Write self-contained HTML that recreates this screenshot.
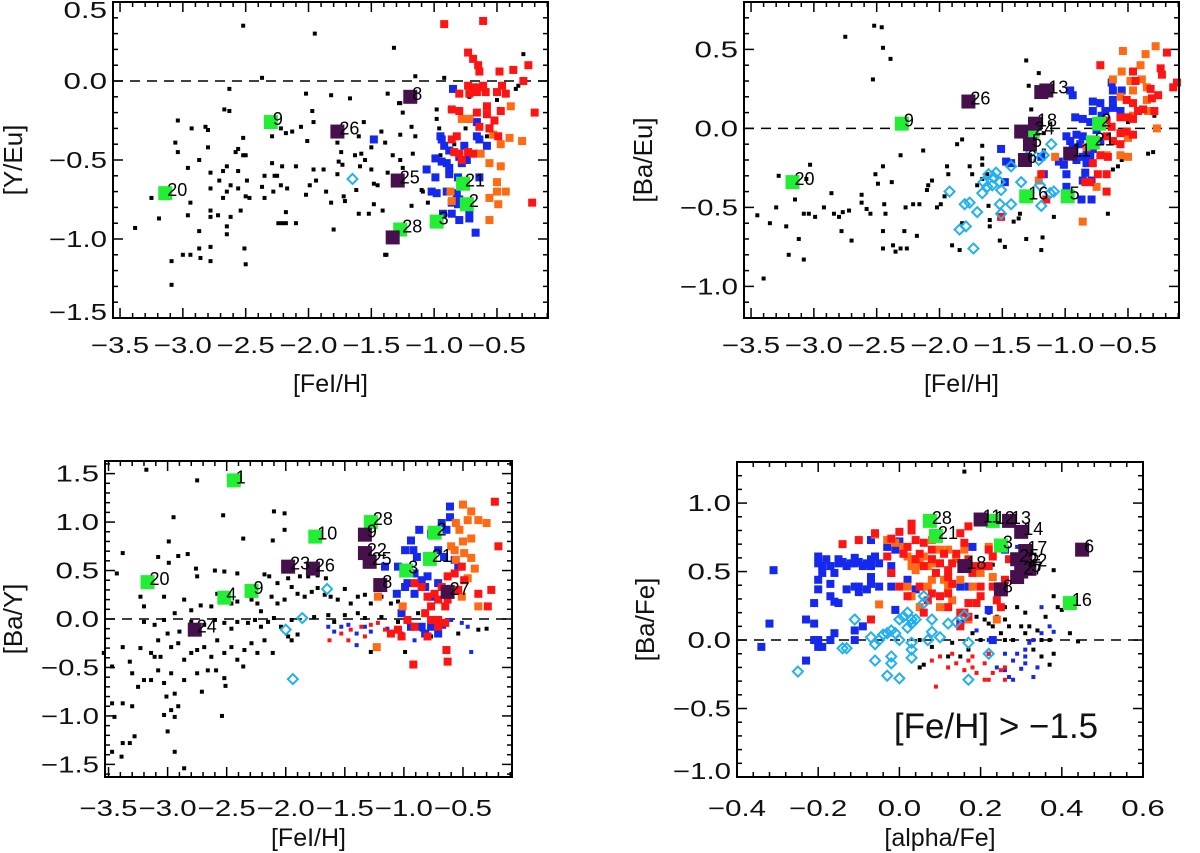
<!DOCTYPE html>
<html><head><meta charset="utf-8"><style>
html,body{margin:0;padding:0;background:#fff;}
svg{display:block;font-family:"Liberation Sans",sans-serif;}
</style></head><body>
<svg id="fig" width="1200" height="853" viewBox="0 0 1200 853" xmlns="http://www.w3.org/2000/svg"></svg>
<script>
// ---------- Panel 1: [Y/Eu] vs [FeI/H] ----------
const p1Black = [[-3.38,-0.93],[-3.25,-0.74],[-3.19,-0.87],[-3.09,-1.14],[-3.09,-1.29],[-3.06,-0.39],[-3.04,-0.25],[-3.04,-0.45],[-3.0,-1.1],[-2.96,-0.85],[-2.96,-0.55],[-2.94,-0.77],[-2.94,-1.1],[-2.93,-0.30],[-2.87,-0.5],[-2.87,-0.95],[-2.87,-1.06],[-2.86,-1.12],[-2.82,-0.29],[-2.80,-0.42],[-2.80,-0.31],[-2.78,-0.58],[-2.78,-0.68],[-2.78,-0.82],[-2.78,-0.86],[-2.78,-1.05],[-2.78,-1.14],[-2.72,-0.85],[-2.71,-0.63],[-2.68,-0.74],[-2.68,-0.57],[-2.67,-0.18],[-2.65,-0.54],[-2.65,-0.70],[-2.65,-0.92],[-2.65,-0.97],[-2.63,-0.19],[-2.63,-0.05],[-2.62,-0.66],[-2.62,-0.86],[-2.58,-0.45],[-2.56,-0.43],[-2.56,-0.57],[-2.56,-0.68],[-2.52,0.35],[-2.54,-0.82],[-2.52,-0.36],[-2.52,-0.47],[-2.51,-1.06],[-2.5,-1.16],[-2.5,-0.47],[-2.5,-0.73],[-2.49,-0.63],[-2.47,-0.74],[-2.37,0.02],[-2.37,-0.67],[-2.35,-0.74],[-2.35,-0.6],[-2.29,-0.35],[-2.29,-0.52],[-2.28,-0.7],[-2.27,-0.6],[-2.24,-0.9],[-2.22,-0.3],[-2.22,-0.66],[-2.21,-0.9],[-2.18,-0.33],[-2.18,-0.83],
[-2.02,-0.08],[-1.97,-0.19],[-1.96,-0.26],[-2.06,-0.29],[-2.13,-0.32],[-2.01,-0.38],[-1.82,-0.09],[-1.67,-0.11],[-1.56,-0.26],[-1.60,-0.35],[-1.77,-0.39],[-1.74,-0.45],[-1.76,-0.51],[-1.73,-0.53],[-1.77,-0.59],[-1.63,-0.47],[-1.58,-0.46],[-1.55,-0.50],[-1.50,-0.56],[-1.59,-0.54],[-1.37,-0.08],[-1.28,-0.14],[-1.42,-0.32],[-1.39,-0.39],[-1.37,-0.58],[-1.48,-0.65],[-1.45,-0.66],[-1.48,-0.78],[-1.41,-0.82],[-1.62,-0.69],[-1.72,-0.73],[-1.71,-0.76],[-1.82,-0.77],[-1.86,-0.70],[-1.94,-0.63],[-1.88,-0.56],[-1.96,-0.56],[-1.99,-0.66],[-2.02,-0.72],[-2.10,-0.54],[-2.21,-0.54],[-2.25,-0.60],[-2.17,-0.68],[-2.18,-0.90],[-2.10,-0.90],[-1.60,-0.84],[-1.52,-0.84],[-1.80,-0.94],[-1.39,-1.1],[-1.50,-0.42],[-1.95,0.30],
[-1.32,0.21],[-1.15,0.03],[-0.92,0.02],[-1.27,-0.14],[-1.25,-0.2],[-1.18,-0.29],[-1.15,-0.35],[-1.27,-0.34],[-1.33,-0.47],[-1.17,-0.46],[-1.27,-0.5],[-1.25,-0.55],[-1.10,-0.69],[-1.09,-0.70],[-1.05,-0.77],[-1.18,-0.79],[-1.38,-1.1],[-0.98,-0.18],[-0.98,-0.24],[-0.96,-0.3],[-0.95,-0.47],[-0.84,-0.40],[-0.72,-0.1],[-0.50,-0.12],[-0.35,-0.05],[-0.33,-0.03],[-0.29,0.17],[-0.58,-0.35],[-0.75,-0.30]];
const p1Blue = [[-0.85,-0.05],[-0.72,-0.24],[-0.66,-0.26],[-0.95,-0.35],[-0.94,-0.37],[-0.92,-0.41],[-0.88,-0.44],[-0.76,-0.41],[-0.66,-0.35],[-0.64,-0.37],[-0.58,-0.41],[-0.56,-0.30],[-0.99,-0.49],[-0.94,-0.51],[-0.90,-0.52],[-0.88,-0.55],[-0.80,-0.48],[-0.78,-0.52],[-0.74,-0.50],[-1.06,-0.56],[-0.99,-0.61],[-0.88,-0.59],[-0.81,-0.61],[-0.64,-0.61],[-1.02,-0.70],[-0.98,-0.71],[-0.90,-0.70],[-0.82,-0.71],[-0.86,-0.77],[-0.81,-0.78],[-0.93,-0.84],[-0.86,-0.84],[-0.80,-0.88],[-0.72,-0.87],[-0.67,-0.96],[-0.80,-0.75],[-0.72,-0.82],[-1.48,-0.37]];
const p1Red = [[-0.92,0.36],[-0.61,0.38],[-0.73,0.18],[-0.69,0.14],[-0.65,0.10],[-0.64,0.06],[-0.48,0.06],[-0.37,0.07],[-0.25,0.10],[-0.29,0.0],[-0.73,-0.03],[-0.69,-0.04],[-0.65,-0.04],[-0.61,-0.03],[-0.72,-0.08],[-0.66,-0.07],[-0.59,-0.07],[-0.80,-0.08],[-0.46,-0.03],[-0.50,-0.07],[-0.43,-0.08],[-0.86,-0.18],[-0.80,-0.19],[-0.58,-0.16],[-0.58,-0.21],[-0.66,-0.20],[-0.47,-0.19],[-0.20,-0.20],[-0.64,-0.29],[-0.56,-0.30],[-0.82,-0.35],[-0.86,-0.37],[-0.80,-0.46],[-0.73,-0.45],[-0.69,-0.46],[-0.49,-0.35],[-0.52,-0.25],[-0.22,-0.77],[-0.78,-0.50],[-0.84,-0.45]];
const p1Orange = [[-0.39,-0.16],[-0.78,-0.24],[-0.72,-0.24],[-0.53,-0.34],[-0.47,-0.40],[-0.40,-0.36],[-0.30,-0.38],[-0.63,-0.46],[-0.56,-0.52],[-0.47,-0.54],[-0.50,-0.64],[-0.50,-0.70],[-0.43,-0.70],[-0.56,-0.74],[-0.49,-0.78],[-0.56,-0.88],[-0.87,-0.70],[-0.86,-0.76]];
const p1Cyan = [[-1.65,-0.62]];
const p1Green = [[-3.14,-0.71,"20"],[-2.30,-0.26,"9"],[-0.77,-0.65,"21"],[-0.74,-0.78,"2"],[-0.98,-0.89,"3"],[-1.27,-0.94,"28"]];
const p1Purple = [[-1.19,-0.10,"8"],[-1.29,-0.63,"25"],[-1.33,-0.99,""],[-1.77,-0.32,"26"]];

// ---------- Panel 2: [Ba/Eu] vs [FeI/H] ----------
const p2Black = [[-2.52,0.65],[-2.46,0.64],[-2.75,0.58],[-2.45,0.51],[-2.39,0.44],[-2.53,0.31],[-1.31,0.43],[-1.21,0.35],[-1.27,0.12],[-2.31,-0.17],[-2.13,-0.14],[-2.45,-0.24],[-2.51,-0.29],[-2.49,-0.35],[-2.38,-0.34],[-3.06,-0.32],[-2.99,-0.56],[-3.04,-0.54],[-2.92,-0.50],[-2.86,-0.41],[-2.84,-0.54],[-2.80,-0.56],[-2.77,-0.53],[-2.72,-0.52],[-2.78,-0.65],[-2.70,-0.71],[-2.62,-0.42],[-2.62,-0.47],[-2.58,-0.51],[-2.55,-0.54],[-2.44,-0.48],[-2.43,-0.54],[-2.45,-0.65],[-2.45,-0.76],[-2.37,-0.74],[-2.35,-0.78],[-2.31,-0.76],[-2.26,-0.76],[-2.28,-0.65],[-2.27,-0.50],[-2.21,-0.48],[-2.18,-0.68],[-2.16,-0.48],[-2.09,-0.36],[-2.10,-0.39],[-2.06,-0.33],[-2.02,-0.50],[-1.99,-0.48],[-1.94,-0.24],[-1.93,-0.29],[-1.96,-0.43],[-1.90,-0.74],[-1.86,-0.10],[-1.82,-0.07],[-1.82,-0.60],[-1.84,-0.77],[-1.76,-0.24],[-1.74,-0.29],[-1.70,-0.36],[-1.66,-0.11],[-1.66,-0.19],[-1.66,-0.23],[-1.66,-0.32],[-1.62,-0.29],[-1.61,-0.49],[-1.60,-0.58],[-1.60,-0.62],[-1.52,-0.71],[-1.48,-0.75],[-1.41,-0.59],[-1.37,-0.57],[-1.36,-0.54],[-1.31,-0.70],[-1.18,-0.69],[-1.19,-0.77],[-1.09,-0.56],[-1.29,0.27],[-1.25,0.01],[-1.17,-0.03],[-1.17,-0.14],[-3.08,-0.54],[-3.03,-0.23],[-3.08,-0.83],[-0.34,-0.16],[-0.30,-0.15],[-0.29,0.08],[-0.66,-0.54],[-0.58,-0.24],[-0.55,-0.20],[-0.62,-0.26],[-0.50,0.04],[-3.45,-0.55],[-3.40,-0.95],[-3.35,-0.60],[-3.30,-0.50],[-3.28,-0.30],[-3.22,-0.62],[-3.20,-0.80],[-3.15,-0.45],[-3.12,-0.70]];
const p2Blue = [[-1.51,-0.13],[-1.47,-0.21],[-1.48,-0.34],[-1.43,-0.22],[-0.96,0.24],[-0.94,0.21],[-0.78,0.17],[-0.72,0.16],[-0.63,0.29],[-0.55,0.24],[-0.62,0.24],[-0.68,0.11],[-0.62,0.18],[-0.78,0.11],[-0.71,0.08],[-0.62,0.13],[-0.56,0.11],[-0.86,0.06],[-0.92,0.07],[-0.80,0.04],[-0.75,-0.01],[-0.99,-0.05],[-0.96,-0.08],[-0.91,-0.04],[-0.86,-0.05],[-0.80,-0.07],[-0.94,-0.12],[-0.88,-0.10],[-0.83,-0.13],[-0.78,-0.13],[-0.72,-0.08],[-1.05,-0.21],[-0.99,-0.29],[-1.01,-0.23],[-0.91,-0.20],[-0.86,-0.18],[-0.83,-0.22],[-0.80,-0.18],[-0.84,-0.28],[-0.86,-0.33],[-0.79,-0.33],[-0.99,-0.37],[-0.87,-0.45],[-0.79,-0.45],[-1.17,-0.29],[-1.19,-0.18]];
const p2Red = [[-0.72,0.40],[-0.46,0.36],[-0.44,0.30],[-0.24,0.38],[-0.23,0.34],[-0.19,0.48],[-0.11,0.29],[-0.14,0.26],[-0.32,0.25],[-0.31,0.19],[-0.26,0.21],[-0.51,0.18],[-0.46,0.16],[-0.42,0.11],[-0.38,0.12],[-0.29,0.11],[-0.50,0.07],[-0.46,0.06],[-0.56,0.07],[-0.67,0.05],[-0.63,0.01],[-0.56,-0.03],[-0.51,-0.02],[-0.46,-0.04],[-0.67,-0.05],[-0.62,-0.08],[-0.56,-0.10],[-0.72,-0.17],[-0.66,-0.18],[-0.78,-0.22],[-0.74,-0.29],[-0.67,-0.29],[-0.84,-0.34],[-0.80,-0.34],[-0.67,-0.40],[-1.15,-0.45],[-1.51,-0.56],[-1.19,-0.29]];
const p2Orange = [[-0.54,0.49],[-0.36,0.47],[-0.28,0.52],[-0.40,0.40],[-0.55,0.36],[-0.62,0.31],[-0.48,0.30],[-0.39,0.31],[-0.35,0.26],[-0.46,0.24],[-0.56,0.20],[-0.35,0.18],[-0.34,0.11],[-0.46,0.08],[-0.27,0.00],[-0.50,-0.06],[-0.56,-0.17],[-0.50,-0.18],[-0.67,-0.17],[-0.83,-0.12],[-1.08,-0.18],[-0.86,-0.59],[-0.75,-0.37],[-1.21,-0.33]];
const p2Cyan = [[-1.92,-0.40],[-1.84,-0.64],[-1.79,-0.62],[-1.73,-0.76],[-1.80,-0.48],[-1.76,-0.47],[-1.70,-0.53],[-1.66,-0.41],[-1.65,-0.34],[-1.61,-0.29],[-1.57,-0.31],[-1.55,-0.28],[-1.62,-0.37],[-1.58,-0.36],[-1.52,-0.34],[-1.51,-0.39],[-1.52,-0.48],[-1.51,-0.54],[-1.43,-0.48],[-1.43,-0.24],[-1.35,-0.34],[-1.27,-0.15],[-1.21,-0.20],[-1.17,-0.17],[-1.11,-0.10],[-1.20,-0.36],[-1.12,-0.41],[-1.09,-0.40],[-1.19,-0.49]];
const p2Green = [[-3.17,-0.34,"20"],[-2.30,0.03,"9"],[-0.73,0.03,"2"],[-0.78,-0.09,"21"],[-1.31,-0.43,"16"],[-0.98,-0.43,"5"],[-1.26,-0.02,"24"]];
const p2Purple = [[-1.77,0.17,"26"],[-1.19,0.23,""],[-1.15,0.24,"13"],[-1.24,0.03,"18"],[-1.35,-0.02,""],[-1.28,-0.10,"5"],[-1.32,-0.20,"6"],[-0.96,-0.16,"11"]];

// ---------- Panel 3: [Ba/Y] vs [FeI/H] ----------
const p3Black = [[-3.18,1.54],[-2.75,1.43],[-2.95,1.05],[-2.53,1.07],[-2.36,0.83],[-2.10,1.11],[-2.01,1.09],[-2.01,0.92],[-2.11,0.81],[-3.38,0.68],[-3.43,0.47],[-3.08,0.64],[-2.91,0.65],[-2.83,0.67],[-2.99,0.58],[-2.99,0.80],[-2.76,0.52],[-2.75,0.44],[-2.60,0.50],[-2.52,0.49],[-2.41,0.47],[-2.18,0.46],[-2.14,0.44],[-2.07,0.37],[-1.98,0.42],[-1.95,0.33],[-1.88,0.44],[-1.81,0.44],[-1.73,0.45],[-1.66,0.42],
[-3.23,0.23],[-3.20,0.13],[-3.03,0.23],[-2.86,0.20],[-2.80,0.09],[-2.72,0.14],[-2.63,0.13],[-2.58,0.26],[-2.46,0.16],[-2.41,0.18],[-2.29,0.20],[-2.24,0.16],[-2.21,0.08],[-2.12,0.23],[-2.07,0.16],[-2.01,0.20],[-1.90,0.26],[-1.84,0.23],[-1.78,0.28],[-1.73,0.32],[-1.67,0.25],[-1.62,0.23],[-1.56,0.20],[-1.50,0.31],[-1.45,0.16],[-1.39,0.23],[-1.33,0.25],[-1.28,0.16],[-1.19,0.23],[-1.11,0.16],[-1.05,0.18],
[-3.20,-0.03],[-3.11,-0.06],[-3.03,-0.01],[-2.94,0.06],[-2.90,-0.13],[-2.80,-0.03],[-2.75,-0.08],[-2.69,-0.06],[-2.60,-0.01],[-2.52,-0.04],[-2.46,-0.10],[-2.41,-0.03],[-2.32,-0.04],[-2.26,-0.01],[-2.21,-0.08],[-2.15,-0.03],[-2.10,0.01],[-2.04,-0.08],[-1.95,-0.01],[-1.76,0.02],[-1.64,0.04],[-1.59,-0.03],[-1.50,0.04],[-1.39,0.06],[-1.33,0.01],[-1.19,0.02],[-1.05,-0.03],[-0.94,-0.06],[-0.88,0.06],[-0.54,-0.15],[-0.37,-0.11],[-0.30,-0.10],
[-3.23,-0.30],[-3.14,-0.35],[-3.08,-0.22],[-3.06,-0.39],[-3.00,-0.15],[-2.97,-0.29],[-2.91,-0.25],[-2.86,-0.42],[-2.80,-0.35],[-2.75,-0.32],[-2.69,-0.29],[-2.63,-0.39],[-2.58,-0.22],[-2.52,-0.35],[-2.46,-0.29],[-2.41,-0.42],[-2.35,-0.32],[-2.29,-0.25],[-2.24,-0.35],[-2.18,-0.22],[-2.11,-0.35],[-1.98,-0.18],[-1.95,-0.22],[-1.90,-0.16],[-3.54,-0.35],[-3.38,-0.29],[-3.47,-0.49],[-3.32,-0.44],[-3.30,-0.56],[-3.25,-0.70],[-3.20,-0.63],[-3.11,-0.39],[-3.08,-0.53],[-3.03,-0.66],[-3.01,-0.80],[-2.97,-0.56],[-2.94,-0.77],[-2.91,-0.90],[-3.14,-0.63],[-2.97,-0.94],[-2.94,-1.01],[-2.86,-0.63],[-2.75,-0.56],[-2.71,-0.75],[-2.66,-0.53],[-2.59,-0.53],[-2.52,-0.61],[-2.51,-0.69],[-2.36,-0.49],[-2.54,-1.00],[-3.38,-0.87],[-3.30,-0.90],[-3.47,-0.87],[-3.45,-1.01],[-3.38,-1.28],[-3.28,-1.21],[-3.32,-1.28],[-3.47,-1.37],[-3.39,-1.42],[-3.00,-1.16],[-2.94,-1.37],[-2.86,-1.54],[-3.03,-0.99],[-1.28,-0.34],[-0.99,-0.34],[-0.77,-0.18]];
const p3Blue = [[-1.16,0.54],[-1.05,0.54],[-0.99,0.71],[-0.92,0.71],[-0.94,0.81],[-0.87,0.92],[-0.77,0.88],[-0.68,0.99],[-0.64,0.92],[-0.61,1.16],[-0.61,1.05],[-0.71,0.71],[-0.66,0.64],[-0.57,0.61],[-0.91,0.47],[-0.85,0.40],[-0.80,0.44],[-0.97,0.37],[-0.91,0.26],[-0.82,0.33],[-0.77,0.23],[-0.71,0.37],[-1.06,0.26],[-0.99,0.33],[-0.85,-0.08],[-0.82,-0.15],[-0.77,-0.08],[-0.71,-0.15],[-1.02,0.06],[-0.94,-0.08],[-0.89,0.64],[-0.54,0.54]];
const p3BlueDot = [[-1.64,-0.08],[-1.59,-0.13],[-1.53,-0.08],[-1.47,-0.06],[-1.40,-0.15],[-1.33,-0.08],[-1.28,-0.13],[-1.14,-0.10],[-1.02,-0.15],[-0.91,-0.22],[-0.85,-0.11],[-0.66,-0.08],[-0.60,-0.01],[-0.51,-0.04],[-0.46,-0.08],[-0.43,-0.34],[-1.40,-0.27]];
const p3Red = [[-0.92,-0.47],[-0.63,-0.44],[-0.64,-0.32],[-0.23,1.21],[-0.20,0.75],[-0.26,0.30],[-0.29,0.13],[-0.37,0.26],[-0.49,0.40],[-0.54,0.30],[-0.63,0.44],[-0.68,0.33],[-0.74,0.26],[-0.80,0.23],[-0.85,0.33],[-0.91,0.37],[-0.71,0.20],[-0.63,0.20],[-0.77,0.13],[-0.65,0.13],[-0.82,0.06],[-0.71,-0.01],[-0.65,-0.04],[-0.77,-0.01],[-0.97,-0.01],[-0.91,-0.08],[-1.05,-0.11],[-1.11,-0.15],[-1.02,-0.18],[-0.61,0.26],[-0.57,0.47],[-0.51,0.54],[-0.80,-0.18],[-0.71,-0.08]];
const p3RedDot = [[-1.63,-0.22],[-1.53,-0.15],[-1.45,-0.11],[-1.36,-0.08],[-1.28,-0.06],[-1.22,-0.04],[-1.16,-0.11],[-1.33,-0.18],[-1.47,-0.22]];
const p3Orange = [[-0.50,1.18],[-0.43,1.11],[-0.56,0.99],[-0.53,0.92],[-0.46,1.02],[-0.37,1.02],[-0.30,0.99],[-0.43,0.83],[-0.50,0.80],[-0.57,0.71],[-0.49,0.68],[-0.56,0.61],[-0.43,0.63],[-0.40,0.52],[-0.46,0.42],[-0.51,0.23],[-0.37,0.13],[-1.22,0.23],[-1.23,-0.29],[-1.01,0.13],[-0.60,0.75]];
const p3Cyan = [[-1.65,0.31],[-1.86,0.01],[-2.00,-0.11],[-1.94,-0.62]];
const p3Green = [[-2.44,1.43,"1"],[-1.28,1.00,"28"],[-1.75,0.85,"10"],[-0.74,0.89,"2"],[-0.78,0.62,"21"],[-0.98,0.50,"3"],[-3.17,0.38,"20"],[-2.29,0.29,"9"],[-2.52,0.22,"4"]];
const p3Purple = [[-1.98,0.54,"23"],[-1.77,0.52,"26"],[-1.33,0.87,"9"],[-1.33,0.68,"22"],[-1.29,0.59,"25"],[-1.20,0.35,"8"],[-0.63,0.28,"27"],[-2.77,-0.11,"24"]];

// ---------- Panel 4: [Ba/Fe] vs [alpha/Fe] ----------
const p4Black = [[0.16,1.23],[0.38,0.51],[0.38,0.32],[0.23,0.55],[0.19,0.17],[0.21,0.15],[0.22,0.20],[0.24,0.17],[0.26,0.15],[0.26,0.24],[0.29,0.24],[0.31,0.20],[0.32,0.10],[0.34,0.07],[0.36,0.17],[0.39,0.24],[0.40,0.22],[0.42,0.05],[0.44,-0.01],[0.37,0.0],[0.38,-0.10],[0.37,-0.18],[0.31,0.05],[0.30,0.10],[0.28,0.0],[0.27,0.10],[0.25,0.05],[0.23,0.10],[0.22,0.12],[0.20,0.0],[0.18,0.05],[0.13,-0.02],[0.15,-0.12],[0.17,-0.07],[0.12,-0.12],[0.06,-0.18],[0.05,-0.20],[0.08,-0.05],[0.05,0.0],[0.26,0.0],[0.33,-0.07],[0.35,-0.12],[0.35,0.0]];
const p4Blue = [[-0.34,-0.05],[-0.31,0.51],[-0.32,0.12],[-0.23,0.15],[-0.23,-0.15],[-0.21,0.12],[-0.21,0.27],[-0.20,0.61],[-0.20,0.56],[-0.20,0.44],[-0.20,0.37],[-0.19,0.49],[-0.19,0.54],[-0.18,0.59],[-0.17,0.54],[-0.17,0.41],[-0.17,0.32],[-0.16,0.49],[-0.16,0.28],[-0.15,0.59],[-0.15,0.56],[-0.14,0.57],[-0.13,0.54],[-0.12,0.56],[-0.11,0.60],[-0.11,0.56],[-0.10,0.57],[-0.09,0.54],[-0.08,0.56],[-0.07,0.59],[-0.07,0.54],[-0.07,0.73],[-0.06,0.61],[-0.05,0.56],[-0.03,0.68],[-0.02,0.54],[0.0,0.72],[-0.20,-0.05],[-0.19,-0.05],[-0.11,0.0],[-0.11,0.07],[-0.09,0.10],[-0.21,0.0],[-0.20,0.0],[-0.15,0.27],[-0.13,0.37],[-0.11,0.39],[-0.10,0.39],[-0.08,0.37],[-0.07,0.41],[-0.05,0.39],[-0.02,0.39],[-0.01,0.22],[0.02,0.44],[0.04,0.37],[-0.02,0.49],[-0.01,0.66],[-0.07,0.46],[0.15,0.12],[0.15,0.39],[0.18,0.68],[0.22,0.22],[0.23,0.0],[0.17,0.39],[0.26,0.66],[-0.17,0.0],[-0.16,0.05],[-0.10,0.35]];
const p4BlueDot = [[0.26,-0.10],[0.28,-0.15],[0.29,-0.10],[0.31,-0.12],[0.31,-0.17],[0.32,-0.02],[0.33,0.0],[0.34,-0.20],[0.35,0.24],[0.35,0.05],[0.37,0.10],[0.38,0.06],[0.26,-0.22],[0.27,-0.27],[0.30,-0.21],[0.28,-0.29],[0.33,-0.27],[0.31,-0.07],[0.19,0.07],[0.22,-0.10],[0.22,0.0],[0.29,0.68],[0.24,-0.20]];
const p4Red = [[-0.14,0.70],[-0.10,0.73],[-0.06,0.78],[-0.02,0.74],[0.0,0.79],[0.01,0.63],[0.02,0.68],[0.03,0.85],[0.03,0.80],[0.04,0.73],[0.05,0.63],[0.06,0.71],[0.04,0.59],[0.06,0.54],[0.08,0.66],[0.08,0.59],[0.09,0.49],[0.10,0.56],[0.11,0.63],[0.12,0.51],[0.12,0.46],[0.13,0.56],[0.14,0.63],[0.15,0.78],[0.16,0.71],[0.17,0.59],[0.17,0.83],[0.18,0.49],[0.19,0.54],[0.20,0.39],[0.21,0.54],[0.22,0.66],[0.20,0.32],[0.19,0.27],[0.17,0.27],[0.16,0.20],[0.15,0.10],[0.12,0.24],[0.08,0.34],[0.07,0.29],[0.06,0.20],[0.05,0.39],[0.02,0.32],[0.0,0.39],[-0.02,0.49],[-0.03,0.61],[-0.07,0.15],[0.15,0.20],[0.17,0.17],[0.23,0.39],[0.24,0.29],[0.25,0.24],[0.26,0.44],[0.27,0.59],[0.22,0.54],[0.23,0.61],[0.12,0.34],[0.13,0.41],[0.10,0.32]];
const p4RedDot = [[0.08,-0.15],[0.10,-0.12],[0.13,-0.10],[0.14,-0.17],[0.16,-0.22],[0.17,-0.15],[0.18,-0.20],[0.19,-0.24],[0.21,-0.17],[0.22,-0.10],[0.22,-0.29],[0.23,-0.24],[0.25,-0.22],[0.26,-0.20],[0.26,-0.29],[0.21,-0.29],[0.09,-0.34],[0.18,-0.12],[0.12,-0.20]];
const p4Orange = [[-0.06,0.77],[-0.03,0.73],[-0.01,0.71],[0.01,0.68],[0.02,0.61],[0.03,0.54],[0.03,0.59],[0.04,0.51],[0.05,0.56],[0.06,0.61],[0.07,0.54],[0.08,0.59],[0.08,0.73],[0.07,0.39],[0.08,0.44],[0.10,0.66],[0.12,0.66],[0.12,0.39],[0.14,0.59],[0.13,0.29],[0.15,0.44],[0.16,0.66],[0.16,0.20],[0.17,0.15],[0.18,0.39],[0.20,0.49],[0.22,0.68],[0.23,0.46],[0.24,0.15],[0.02,0.39],[0.03,0.32],[-0.05,0.26],[0.05,0.24],[0.10,0.24],[0.11,0.44],[0.09,0.56]];
const p4Cyan = [[-0.25,-0.23],[-0.14,-0.06],[-0.11,0.15],[-0.07,0.02],[-0.06,-0.03],[-0.05,0.0],[-0.04,0.04],[-0.03,0.05],[-0.02,0.07],[-0.01,0.05],[0.0,0.0],[0.0,0.15],[0.01,0.17],[0.02,0.20],[0.03,0.15],[0.03,0.12],[0.02,0.09],[0.03,-0.02],[0.03,-0.07],[0.04,0.15],[0.06,0.32],[0.06,0.27],[0.07,0.0],[0.08,0.15],[0.08,0.06],[0.10,0.02],[0.12,0.12],[0.16,0.18],[0.17,-0.02],[0.22,-0.10],[-0.06,-0.15],[-0.02,-0.12],[-0.02,-0.17],[-0.03,-0.26],[0.0,-0.28],[0.03,-0.13],[0.17,-0.29],[-0.13,-0.06],[0.14,0.13]];
const p4Green = [[0.075,0.87,"28"],[0.09,0.76,"21"],[0.23,0.87,"12"],[0.25,0.69,"3"],[0.42,0.27,"16"]];
const p4Purple = [[0.20,0.88,"11"],[0.27,0.87,"13"],[0.30,0.79,"14"],[0.31,0.65,"17"],[0.45,0.66,"6"],[0.16,0.54,"18"],[0.29,0.59,"25"],[0.31,0.56,"22"],[0.30,0.50,"27"],[0.32,0.52,"5"],[0.25,0.37,"8"],[0.29,0.46,""]];

// tick label arrays
const fehTicks = [-3.5,-3.0,-2.5,-2.0,-1.5,-1.0,-0.5];
const alphaTicks = [-0.4,-0.2,0.0,0.2,0.4,0.6];
const yTicks1 = [-1.5,-1.0,-0.5,0.0,0.5];
const yTicks2 = [-1.0,-0.5,0.0,0.5];
const yTicks3 = [-1.5,-1.0,-0.5,0.0,0.5,1.0,1.5];
const yTicks4 = [-1.0,-0.5,0.0,0.5,1.0];

const NS = "http://www.w3.org/2000/svg";
const svg = document.getElementById('fig');
const C = {red:'#ff1414',orange:'#ff6a14',blue:'#1428ee',green:'#22ee33',purple:'#46104c',cyan:'#22b0ee'};

function mk(tag, attrs, parent){
  const e = document.createElementNS(NS, tag);
  for (const k in attrs) e.setAttribute(k, attrs[k]);
  (parent||svg).appendChild(e);
  return e;
}
function fmt(v){ const s = Math.abs(v).toFixed(1); return (v < -1e-9 ? '\u2212' : '') + s; }

function panel(id, cfg){
  const g = mk('g', {});
  
  
  const L=cfg.L, T=cfg.T, W=cfg.W, H=cfg.H;
  const sx = v => L + (v - cfg.x0) / (cfg.x1 - cfg.x0) * W;
  const sy = v => T + H - (v - cfg.y0) / (cfg.y1 - cfg.y0) * H;
  const ax = mk('g', {stroke:'#000','stroke-width':1.5}, g);
  
  
  const xs = cfg.xMinor, ys = cfg.yMinor;
  for (let v = Math.ceil(cfg.x0/xs - 1e-6)*xs; v <= cfg.x1 + 1e-9; v += xs){
    const px = sx(v);
    const major = cfg.xt.some(t => Math.abs(t - v) < 1e-6);
    const len = major ? 10 : 5;
    mk('line', {x1:px, y1:T+H, x2:px, y2:T+H-len}, ax);
    mk('line', {x1:px, y1:T, x2:px, y2:T+len}, ax);
  }
  for (let v = Math.ceil(cfg.y0/ys - 1e-6)*ys; v <= cfg.y1 + 1e-9; v += ys){
    const py = sy(v);
    const major = cfg.yt.some(t => Math.abs(t - v) < 1e-6);
    const len = major ? 10 : 5;
    mk('line', {x1:L, y1:py, x2:L+len, y2:py}, ax);
    mk('line', {x1:L+W, y1:py, x2:L+W-len, y2:py}, ax);
  }
  const z = mk('line', {x1:L, y1:sy(0), x2:L+W, y2:sy(0), stroke:'#000', 'stroke-width':1.5, 'stroke-dasharray':'10 7'}, g);
  
  
  cfg.xt.forEach(t => {
    const s = fmt(t);
    const tx = mk('text', {x:sx(t), y:cfg.xLabY, 'text-anchor':'middle', 'font-size':23, fill:'#111', textLength: s.length*14.5, lengthAdjust:'spacingAndGlyphs'}, g);
    tx.textContent = s;
    
    
  });
  cfg.yt.forEach(t => {
    const s = fmt(t);
    let py = sy(t) + 8;
    if (py < 18) py = 18;
    if (py > T+H+2) py = T+H+2;
    const tx = mk('text', {x:L-6, y:py, 'text-anchor':'end', 'font-size':23, fill:'#111', textLength: s.length*14.5, lengthAdjust:'spacingAndGlyphs'}, g);
    tx.textContent = s;
    
    
  });
  const xt = mk('text', {x:L+W/2, y:cfg.xTitY, 'text-anchor':'middle', 'font-size':25, fill:'#111'}, g);
  xt.textContent = cfg.xTitle;
  
  
  const yt = mk('text', {x:0, y:0, 'text-anchor':'middle', 'font-size':26, fill:'#111', transform:'translate(' + cfg.yTitX + ',' + (T+H/2) + ') rotate(-90)'}, g);
  yt.textContent = cfg.yTitle;
  
  

  const pg = mk('g', {}, g);
  
  
  const clipOK = (x,y) => x >= L-2 && x <= L+W+2 && y >= T-2 && y <= T+H+2;

  function squares(arr, size, color, name){
    arr.forEach(d => {
      const x = sx(d[0]), y = sy(d[1]);
      if (!clipOK(x,y)) return;
      const r = mk('rect', {x:x-size/2, y:y-size/2, width:size, height:size, fill:color}, pg);
      
      
    });
  }
  function diamonds(arr){
    arr.forEach(d => {
      const x = sx(d[0]), y = sy(d[1]), s = 5;
      const p = mk('polygon', {points:`${x},${y-s} ${x+s},${y} ${x},${y+s} ${x-s},${y}`, fill:'none', stroke:C.cyan, 'stroke-width':2}, pg);
      
      
    });
  }
  function big(arr, color, name){
    arr.forEach(d => {
      const x = sx(d[0]), y = sy(d[1]);
      const r = mk('rect', {x:x-7, y:y-7, width:14, height:14, fill:color}, pg);
      
      
    });
  }
  function labels(arr){
    arr.forEach(d => {
      if (!d[2]) return;
      const x = sx(d[0]), y = sy(d[1]);
      const t = mk('text', {x:x+2, y:y+3, 'font-size':18, fill:'#000'}, pg);
      t.textContent = d[2];
      
      
    });
  }
  squares(cfg.black, 4, '#000', 'black-dot-point');
  if (cfg.blueDot) squares(cfg.blueDot, 4, C.blue, 'blue-dot-point');
  if (cfg.redDot) squares(cfg.redDot, 4, C.red, 'red-dot-point');
  squares(cfg.blue, 8, C.blue, 'blue-square-point');
  squares(cfg.orange, 8, C.orange, 'orange-square-point');
  squares(cfg.red, 8, C.red, 'red-square-point');
  diamonds(cfg.cyan);
  big(cfg.green, C.green, 'green-labeled-star');
  big(cfg.purple, C.purple, 'purple-labeled-star');
  labels(cfg.green); labels(cfg.purple);

  const fr = mk('rect', {x:L, y:T, width:W, height:H, fill:'none', stroke:'#000', 'stroke-width':2}, g);
  
  
  return {sx, sy, g};
}

panel('panel-y-eu', {L:113,T:2,W:435,H:316,x0:-3.556,x1:-0.094,y0:-1.5,y1:0.5,xt:fehTicks,yt:yTicks1,xMinor:0.1,yMinor:0.1,
  xLabY:353,xTitY:392,yTitX:22,xTitle:'[FeI/H]',yTitle:'[Y/Eu]',
  black:p1Black,blue:p1Blue,red:p1Red,orange:p1Orange,cyan:p1Cyan,green:p1Green,purple:p1Purple});
panel('panel-ba-eu', {L:744,T:2,W:435,H:316,x0:-3.556,x1:-0.094,y0:-1.2,y1:0.8,xt:fehTicks,yt:yTicks2,xMinor:0.1,yMinor:0.1,
  xLabY:353,xTitY:392,yTitX:652,xTitle:'[FeI/H]',yTitle:'[Ba/Eu]',
  black:p2Black,blue:p2Blue,red:p2Red,orange:p2Orange,cyan:p2Cyan,green:p2Green,purple:p2Purple});
panel('panel-ba-y', {L:105,T:461,W:407,H:316,x0:-3.53,x1:-0.085,y0:-1.63,y1:1.63,xt:fehTicks,yt:yTicks3,xMinor:0.1,yMinor:0.1,
  xLabY:816,xTitY:846,yTitX:22,xTitle:'[FeI/H]',yTitle:'[Ba/Y]',
  black:p3Black,blue:p3Blue,blueDot:p3BlueDot,red:p3Red,redDot:p3RedDot,orange:p3Orange,cyan:p3Cyan,green:p3Green,purple:p3Purple});
const p4 = panel('panel-ba-fe', {L:737,T:462,W:406,H:315,x0:-0.4,x1:0.6,y0:-1.0,y1:1.3,xt:alphaTicks,yt:yTicks4,xMinor:0.04,yMinor:0.1,
  xLabY:816,xTitY:846,yTitX:654,xTitle:'[alpha/Fe]',yTitle:'[Ba/Fe]',
  black:p4Black,blue:p4Blue,blueDot:p4BlueDot,red:p4Red,redDot:p4RedDot,orange:p4Orange,cyan:p4Cyan,green:p4Green,purple:p4Purple});
const ann = mk('text', {x:996, y:738, 'text-anchor':'middle', 'font-size':35, fill:'#111'}, p4.g);
ann.textContent = '[Fe/H] > \u22121.5';


</script>
</body></html>
